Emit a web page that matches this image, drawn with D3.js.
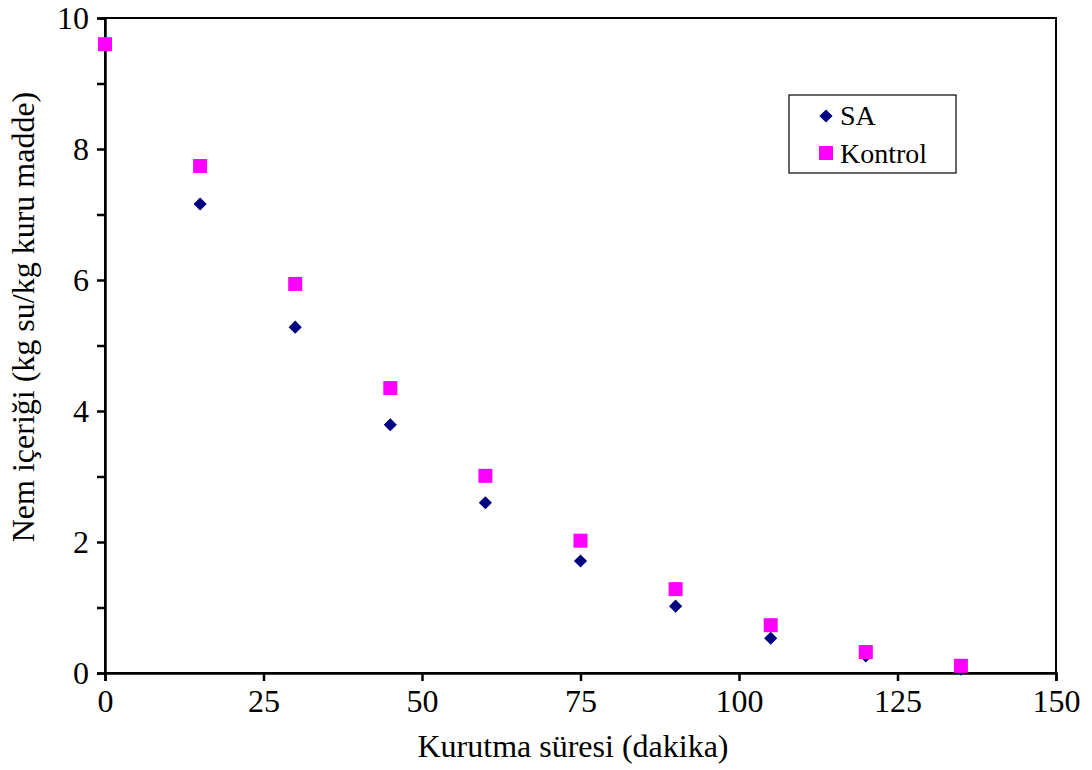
<!DOCTYPE html>
<html>
<head>
<meta charset="utf-8">
<script src="https://cdn.jsdelivr.net/npm/d3@7"></script>
<style>
  body { margin: 0; background: #fff; }
  svg { display: block; font-family: "Liberation Serif", "Times New Roman", serif; }
</style>
</head>
<body>
<svg id="chart" width="1092" height="770"></svg>
<script>
// Drying time (minutes)
const times = [0, 15, 30, 45, 60, 75, 90, 105, 120, 135];
// Moisture content (kg water / kg dry matter)
const saValues = [9.60, 7.16, 5.28, 3.79, 2.60, 1.71, 1.02, 0.53, 0.26, 0.06];
const kontrolValues = [9.60, 7.74, 5.94, 4.35, 3.01, 2.02, 1.28, 0.73, 0.32, 0.11];
const xTicks = [0, 25, 50, 75, 100, 125, 150];
const yTicks = [0, 2, 4, 6, 8, 10];
const seriesNames = ["SA", "Kontrol"];

const margin = { left: 105, right: 1092 - 1056, top: 18, bottom: 770 - 673 };
const width = 1092 - margin.left - margin.right;
const height = 770 - margin.top - margin.bottom;
const fontSize = 32;

const svg = d3.select("#chart");
const g = svg.append("g").attr("transform", `translate(${margin.left},${margin.top})`);

const x = d3.scaleLinear().domain([0, 150]).range([0, width]);
const y = d3.scaleLinear().domain([0, 10]).range([height, 0]);

// Frame
g.append("rect").attr("x", 0).attr("y", 0).attr("width", width).attr("height", height)
  .attr("fill", "none").attr("stroke", "#000").attr("stroke-width", 2);

// X axis
const xAxis = g.append("g").attr("transform", `translate(0,${height})`)
  .call(d3.axisBottom(x).tickValues(xTicks).tickSize(8).tickPadding(8).tickFormat(d3.format("d")));
// Y axis: ticks every 1, labels every 2
const yAxis = g.append("g")
  .call(d3.axisLeft(y).tickValues(d3.range(0, 11, 1)).tickSize(8).tickPadding(8)
    .tickFormat(d => yTicks.includes(d) ? d : ""));

[xAxis, yAxis].forEach(a => {
  a.select(".domain").attr("stroke-width", 2.5);
  a.selectAll(".tick line").attr("stroke-width", 2.5);
  a.selectAll("text").attr("font-size", fontSize).attr("fill", "#000")
    .attr("font-family", "'Liberation Serif', 'Times New Roman', serif");
});

// Axis titles
svg.append("text").attr("x", 573).attr("y", 757)
  .attr("text-anchor", "middle").attr("font-size", fontSize).text("Kurutma süresi (dakika)");
svg.append("text").attr("transform", `translate(34,317) rotate(-90)`)
  .attr("text-anchor", "middle").attr("font-size", fontSize).text("Nem içeriği (kg su/kg kuru madde)");

const diamond = d3.symbol().type(d3.symbolDiamond2).size(110);
const sq = 14;

// SA points (diamonds)
g.selectAll(".sa").data(times.map((t, i) => [t, saValues[i]])).join("path")
  .attr("class", "sa").attr("d", diamond)
  .attr("transform", d => `translate(${x(d[0])},${y(d[1])})`)
  .attr("fill", "#000080");

// Kontrol points (squares)
g.selectAll(".kontrol").data(times.map((t, i) => [t, kontrolValues[i]])).join("rect")
  .attr("class", "kontrol")
  .attr("x", d => x(d[0]) - sq / 2).attr("y", d => y(d[1]) - sq / 2)
  .attr("width", sq).attr("height", sq).attr("fill", "#ff00ff");

// Legend
const legend = svg.append("g").attr("transform", "translate(789,95)");
legend.append("rect").attr("width", 167).attr("height", 78)
  .attr("fill", "#fff").attr("stroke", "#000").attr("stroke-width", 1.2);
legend.append("path").attr("d", diamond).attr("transform", "translate(37,21)").attr("fill", "#000080");
legend.append("rect").attr("x", 30).attr("y", 51).attr("width", sq).attr("height", sq).attr("fill", "#ff00ff");
legend.selectAll(".lt").data(seriesNames).join("text")
  .attr("x", 51).attr("y", (d, i) => 30 + i * 38)
  .attr("font-size", 28).text(d => d);
</script>
</body>
</html>
